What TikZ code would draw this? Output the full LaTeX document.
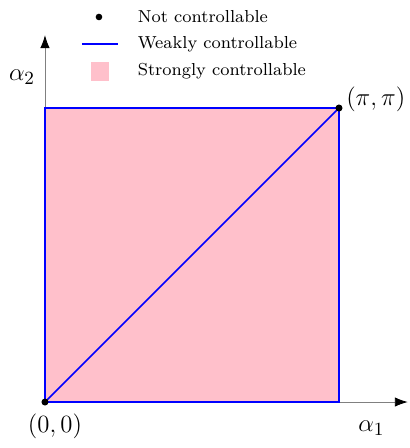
\documentclass[tikz,border=0pt]{standalone}
\usepackage{amsmath,amssymb}
\usepackage{xcolor}
\usetikzlibrary{arrows.meta,positioning,calc}
\definecolor{strongpink}{RGB}{255,192,203}

\begin{document}
\begin{tikzpicture}[>={Latex[black,length=2.2mm,width=1.6mm]}, thick,
  mathlabel/.style={font=\fontsize{13pt}{15pt}\selectfont},
  legtext/.style={anchor=west, inner sep=0pt, font=\fontsize{8.4pt}{10pt}\selectfont}]
\useasboundingbox (-0.765,-0.782) rectangle (6.207,6.837);
% region and axes
\coordinate (O) at (0,0);
\coordinate (P) at (5,5);
\coordinate (X) at (6.17,0);
\coordinate (Y) at (0,6.24);
\fill[strongpink] (O) rectangle (P);
\draw[->, gray, thin] (O) -- (X);
\draw[->, gray, thin] (O) -- (Y);
\draw[blue] (O) rectangle (P);
\draw[blue] (O) -- (P);
\fill (O) circle (1.7pt);
\fill (P) circle (1.7pt);
\node[mathlabel] (a1) at (5.55,-0.45) {$\alpha_1$};
\node[mathlabel] (a2) at (-0.39,5.53) {$\alpha_2$};
\node[mathlabel] (Ol) at (0.17,-0.42) {$(0,0)$};
\node[mathlabel, anchor=west, inner sep=2pt] (Pl) at (5.04,5.14) {$(\pi,\pi)$};
% legend
\fill (0.918,6.548) circle (1.6pt);
\coordinate (la) at (0.629,6.088);
\coordinate (lb) at (1.241,6.088);
\draw[blue, semithick] (la) -- (lb);
\fill[strongpink] (0.78,5.46) rectangle (1.09,5.78);
\node[legtext] (n1) at (1.565,6.548) {Not controllable};
\node[legtext] (n2) at (1.565,6.088) {Weakly controllable};
\node[legtext] (n3) at (1.565,5.629) {Strongly controllable};
\end{tikzpicture}
\end{document}
